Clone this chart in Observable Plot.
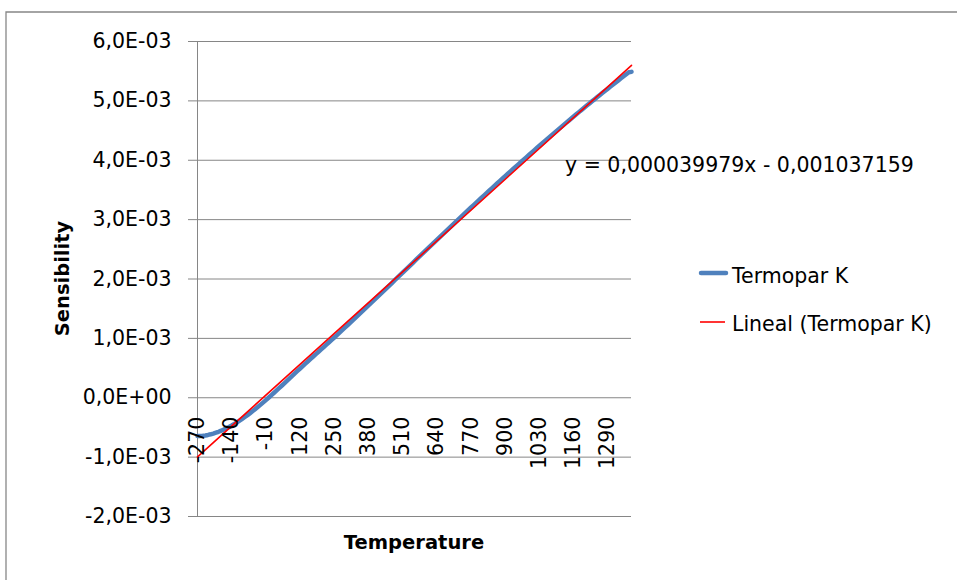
<!DOCTYPE html>
<html><head><meta charset="utf-8">
<script src="https://cdn.jsdelivr.net/npm/d3@7"></script>
<script src="https://cdn.jsdelivr.net/npm/@observablehq/plot@0.6"></script>
<style>html,body{margin:0;padding:0;background:#fff;overflow:hidden}#chart{position:relative;width:957px;height:580px}</style>
</head><body><div id="chart"></div>
<script>
// Categories (Temperature, °C)
const temperatures = [
-270,-260,-250,-240,-230,-220,-210,-200,-190,-180,-170,-160,-150,-140,-130,-120,-110,-100,-90,-80,-70,-60,-50,-40,-30,-20,-10,
0,10,20,30,40,50,60,70,80,90,100,110,120,130,140,150,160,170,180,190,200,210,220,230,240,250,260,270,280,290,300,
310,320,330,340,350,360,370,380,390,400,410,420,430,440,450,460,470,480,490,500,510,520,530,540,550,560,570,580,590,600,
610,620,630,640,650,660,670,680,690,700,710,720,730,740,750,760,770,780,790,800,810,820,830,840,850,860,870,880,890,900,
910,920,930,940,950,960,970,980,990,1000,1010,1020,1030,1040,1050,1060,1070,1080,1090,1100,1110,1120,1130,1140,1150,1160,
1170,1180,1190,1200,1210,1220,1230,1240,1250,1260,1270,1280,1290,1300,1310,1320,1330,1340,1350,1360,1370,1372];
// Series "Termopar K" values, in units of 1E-04
const termoparK = [
-6.458,-6.441,-6.404,-6.344,-6.262,-6.158,-6.035,-5.891,-5.730,-5.550,-5.354,-5.141,-4.913,-4.669,-4.411,-4.138,-3.852,-3.554,-3.243,-2.920,-2.587,-2.243,-1.889,-1.527,-1.156,-0.778,-0.392,
0.000,0.397,0.798,1.203,1.612,2.023,2.436,2.851,3.267,3.682,4.096,4.509,4.920,5.328,5.735,6.138,6.540,6.941,7.340,7.739,8.138,8.539,8.940,9.343,9.747,10.153,10.561,10.971,11.382,11.795,12.209,
12.624,13.040,13.457,13.874,14.293,14.713,15.133,15.554,15.975,16.397,16.820,17.243,17.667,18.091,18.516,18.941,19.366,19.792,20.218,20.644,21.071,21.497,21.924,22.350,22.776,23.203,23.629,24.055,24.480,24.905,
25.330,25.755,26.179,26.602,27.025,27.447,27.869,28.289,28.710,29.129,29.548,29.965,30.382,30.798,31.213,31.628,32.041,32.453,32.865,33.275,33.685,34.093,34.501,34.908,35.313,35.718,36.121,36.524,36.925,37.326,
37.725,38.124,38.522,38.918,39.314,39.708,40.101,40.494,40.885,41.276,41.665,42.053,42.440,42.826,43.211,43.595,43.978,44.359,44.740,45.119,45.497,45.873,46.249,46.623,46.995,47.367,
47.737,48.105,48.473,48.838,49.202,49.565,49.926,50.286,50.644,51.000,51.355,51.708,52.060,52.410,52.759,53.106,53.451,53.795,54.138,54.479,54.819,54.886];
const xTickLabels = [-270,-140,-10,120,250,380,510,640,770,900,1030,1160,1290];
const yTicks = [-0.002,-0.001,0,0.001,0.002,0.003,0.004,0.005,0.006];
const seriesName = "Termopar K";
const trendName = "Lineal (Termopar K)";
const equation = "y = 0,000039979x - 0,001037159";
const xTitle = "Temperature";
const yTitle = "Sensibility";

const data = temperatures.map((t, i) => ({i, t, v: termoparK[i] / 10000}));
const xTicks = xTickLabels.map(l => ({ix: temperatures.indexOf(l), label: String(l)}));

function fmt(v) {
  const [m, e] = v.toExponential(1).split("e");
  const n = parseInt(e, 10);
  const sign = n < 0 ? "-" : "+";
  return m.replace(".", ",") + "E" + sign + String(Math.abs(n)).padStart(2, "0");
}

const FONT = "DejaVu Sans";
const GRID = "#868686";

const plot = Plot.plot({
  width: 957, height: 580,
  marginLeft: 197, marginRight: 326, marginTop: 41, marginBottom: 64,
  style: {fontFamily: FONT, fontSize: "20.5px", color: "#000", background: "#fff", overflow: "visible"},
  x: {type: "linear", domain: [0, temperatures.length - 1], axis: null},
  y: {domain: [-0.002, 0.006], axis: null},
  marks: [
    Plot.gridY(yTicks, {stroke: GRID, strokeOpacity: 1, strokeWidth: 1}),
    Plot.axisY(yTicks, {tickSize: 9, tickPadding: 17, tickFormat: fmt, stroke: GRID, fill: "#000", label: null}),
    Plot.ruleX([0], {stroke: GRID, strokeWidth: 1}),
    Plot.line(data, {x: "i", y: "v", stroke: "#4f81bd", strokeWidth: 4.5, strokeLinecap: "round", strokeLinejoin: "round"}),
    Plot.linearRegressionY(data, {x: "i", y: "v", stroke: "#ff0000", strokeWidth: 1.6, ci: 0}),
    Plot.text(xTicks, {x: "ix", y: () => 0, text: "label", rotate: -90, textAnchor: "end", dy: 19, fill: "#000"})
  ]
});
document.getElementById("chart").appendChild(plot);

const svg = d3.select(plot);
const ann = svg.append("g").attr("font-family", FONT).attr("font-size", "20.5px")
  .attr("fill", "#000").attr("text-anchor", "start");
// chart border
ann.append("path").attr("d", "M6,580V12H957").attr("fill", "none").attr("stroke", "#878787").attr("stroke-width", 1.3);
// trendline equation
ann.append("text").attr("x", 565).attr("y", 172).text(equation);
// legend
ann.append("line").attr("x1", 701).attr("x2", 726).attr("y1", 273).attr("y2", 273)
  .attr("stroke", "#4f81bd").attr("stroke-width", 4.5).attr("stroke-linecap", "round");
ann.append("text").attr("x", 732).attr("y", 283).text(seriesName);
ann.append("line").attr("x1", 700).attr("x2", 725).attr("y1", 322).attr("y2", 322)
  .attr("stroke", "#ff0000").attr("stroke-width", 1.6);
ann.append("text").attr("x", 732).attr("y", 331).text(trendName);
// axis titles
ann.append("text").attr("x", 414).attr("y", 549).attr("text-anchor", "middle")
  .attr("font-weight", "bold").attr("font-size", "19.5px").text(xTitle);
ann.append("text").attr("transform", "translate(69,278.5) rotate(-90)").attr("text-anchor", "middle")
  .attr("font-weight", "bold").attr("font-size", "19.5px").text(yTitle);
</script>
</body></html>
